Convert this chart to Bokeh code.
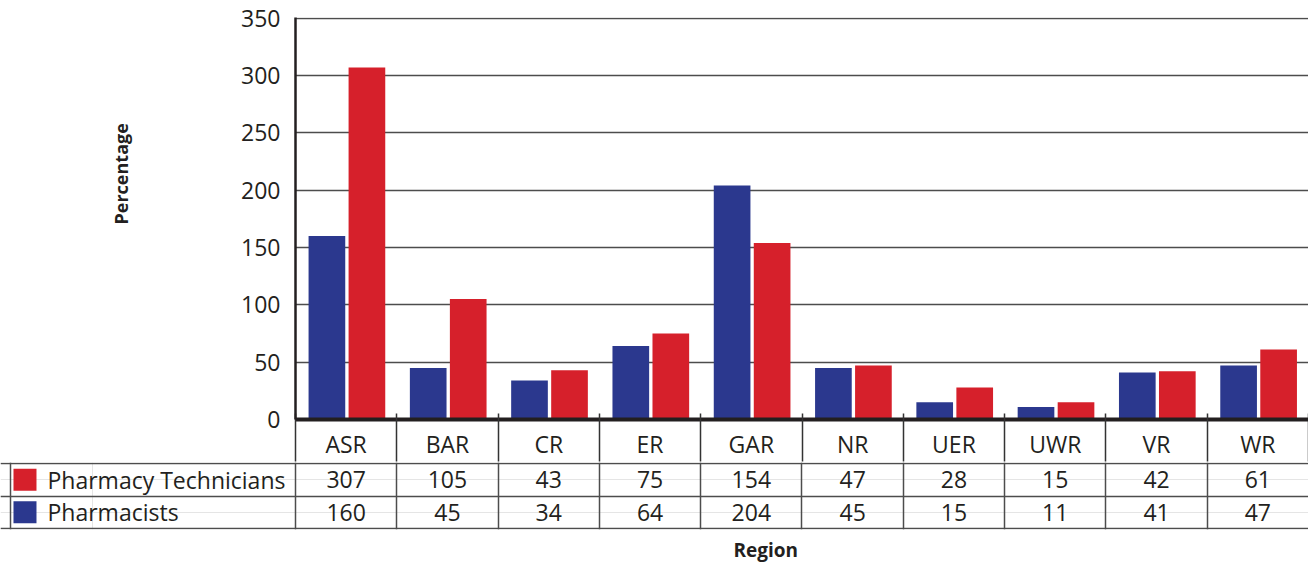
from bokeh.plotting import figure
from bokeh.models import (Range1d, LinearAxis, FixedTicker, Grid,
                          Title, ColumnDataSource)
from bokeh.transform import dodge
from bokeh.core.properties import value
from bokeh.embed import file_html
from bokeh.resources import INLINE

# ---------------- data ----------------
regions = ["ASR", "BAR", "CR", "ER", "GAR", "NR", "UER", "UWR", "VR", "WR"]
technicians = [307, 105, 43, 75, 154, 47, 28, 15, 42, 61]
pharmacists = [160, 45, 34, 64, 204, 45, 15, 11, 41, 47]
series_names = ["Pharmacy Technicians", "Pharmacists"]
y_ticks = [0, 50, 100, 150, 200, 250, 300, 350]
y_title = "Percentage"
x_title = "Region"

# ---------------- style ----------------
RED = "#d6202b"
BLUE = "#2b388e"
INK = "#231f20"
LINE = "#4d4d4d"
FONT = "Open Sans"
n = len(regions)

# category i occupies [i, i+1] on the x scale; its centre is i + 0.5
centres = [i + 0.5 for i in range(n)]
src = ColumnDataSource(dict(
    cat=regions, tech=technicians, pharm=pharmacists, cx=centres,
    tech_txt=[str(v) for v in technicians],
    pharm_txt=[str(v) for v in pharmacists],
))

# ---------------- bar chart ----------------
p = figure(width=1308, height=462,
           x_range=Range1d(0, n), y_range=Range1d(0, 350.6),
           x_axis_location=None,
           output_backend="svg", toolbar_location=None,
           min_border_left=295, min_border_right=0,
           min_border_top=17, min_border_bottom=42)
p.outline_line_color = None
p.background_fill_color = "white"
p.xgrid.grid_line_color = None

p.vbar(x=dodge("cx", -0.19), top="pharm", width=0.362,
       source=src, fill_color=BLUE, line_color=None)
p.vbar(x=dodge("cx", 0.205), top="tech", width=0.362,
       source=src, fill_color=RED, line_color=None)

ya = p.yaxis[0]
ya.ticker = FixedTicker(ticks=y_ticks)
ya.major_tick_in = 0
ya.major_tick_out = 0
ya.minor_tick_line_color = None
ya.axis_line_color = INK
ya.axis_line_width = 2.5
ya.major_label_text_font = FONT
ya.major_label_text_font_size = "23px"
ya.major_label_text_color = INK
ya.major_label_standoff = 15

p.ygrid.grid_line_color = LINE
p.ygrid.grid_line_width = 1.4

xa = LinearAxis(ticker=FixedTicker(ticks=centres, minor_ticks=list(range(n + 1))),
                major_label_overrides={c: r for c, r in zip(centres, regions)})
xa.major_tick_in = 0
xa.major_tick_out = 0
xa.minor_tick_in = 6
xa.minor_tick_out = 42
xa.minor_tick_line_color = "#333333"
xa.minor_tick_line_width = 1.5
xa.axis_line_color = INK
xa.axis_line_width = 4
xa.major_label_text_font = FONT
xa.major_label_text_font_size = "23px"
xa.major_label_text_color = INK
xa.major_label_standoff = -34
p.add_layout(xa, "below")

p.add_layout(Title(text=y_title, align="left", offset=195, standoff=212,
                   text_font=FONT, text_font_style="bold",
                   text_font_size="18px", text_color=INK), "left")

# ---------------- data table ----------------
LEG = 2.813          # width of the legend column, in category widths
PAD = 0.0987         # blank strip left of the table
t = figure(width=1308, height=106,
           x_range=Range1d(-LEG - PAD, n), y_range=Range1d(-0.03, 2.03),
           x_axis_location=None, y_axis_location=None,
           output_backend="svg", toolbar_location=None,
           min_border_left=0, min_border_right=0,
           min_border_top=0, min_border_bottom=34)
t.outline_line_color = None
t.add_layout(Grid(dimension=0, ticker=FixedTicker(ticks=[-LEG] + list(range(n))),
                  grid_line_color=LINE, grid_line_width=1.5))
t.add_layout(Grid(dimension=1, ticker=FixedTicker(ticks=[0, 1, 2]),
                  grid_line_color=LINE, grid_line_width=1.5))

t.text(x="cx", y=1.5, text="tech_txt", source=src, text_align="center",
       text_baseline="middle", text_font=value(FONT), text_font_size="23px",
       text_color=INK)
t.text(x="cx", y=0.5, text="pharm_txt", source=src, text_align="center",
       text_baseline="middle", text_font=value(FONT), text_font_size="23px",
       text_color=INK)

leg = ColumnDataSource(dict(x=[-LEG + 0.143] * 2, tx=[-LEG + 0.365] * 2,
                            y=[1.5, 0.5], name=series_names, color=[RED, BLUE]))
t.rect(x="x", y="y", width=23, height=22, width_units="screen",
       height_units="screen", fill_color="color", line_color=None, source=leg)
t.text(x="tx", y="y", text="name", source=leg, text_align="left",
       text_baseline="middle", text_font=value(FONT), text_font_size="23px",
       text_color=INK)

t.add_layout(Title(text=x_title, align="left", offset=733, standoff=11,
                   text_line_height=1.0,
                   text_font=FONT, text_font_style="bold",
                   text_font_size="19px", text_color=INK), "below")

open("out.html", "w").write(file_html([p, t], INLINE))
